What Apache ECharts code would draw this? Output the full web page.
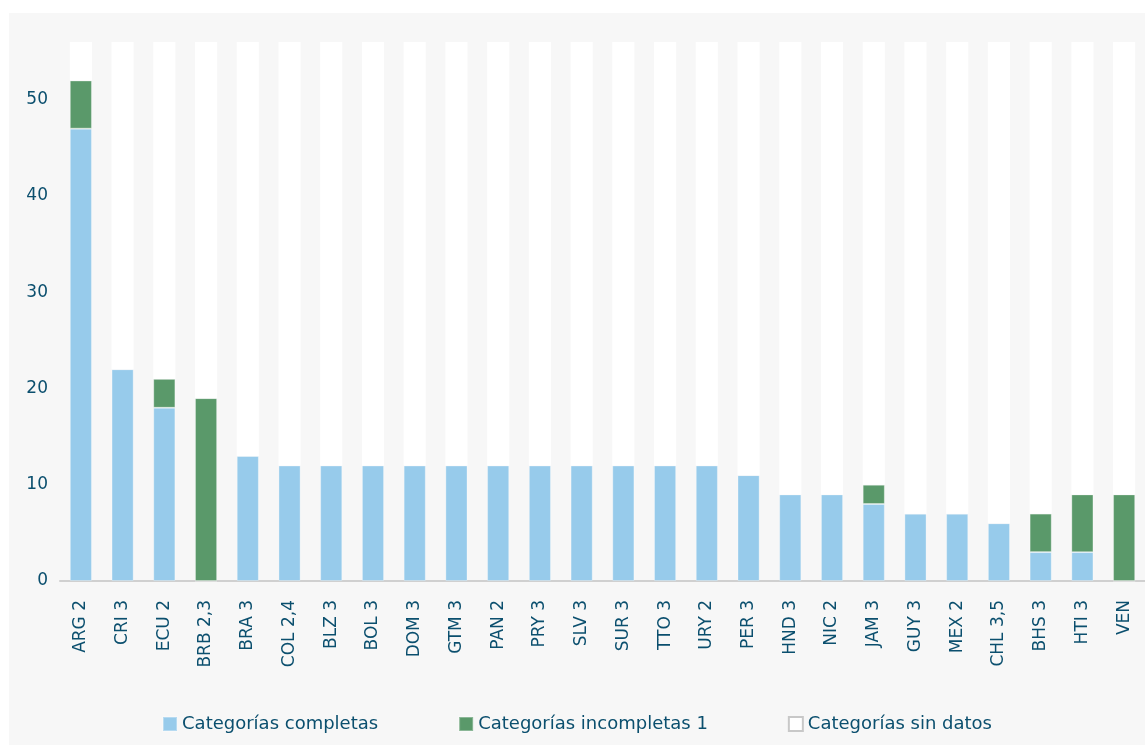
<!DOCTYPE html>
<html>
<head>
<meta charset="utf-8">
<script src="https://cdn.jsdelivr.net/npm/echarts@6/dist/echarts.min.js"></script>
<style>
html,body{margin:0;padding:0;background:#ffffff;}
#c{position:absolute;left:9px;top:13px;width:1136px;height:732px;background:#f7f7f7;}
</style>
</head>
<body>
<div id="c"></div>
<script>
const categories = ["ARG 2","CRI 3","ECU 2","BRB 2,3","BRA 3","COL 2,4","BLZ 3","BOL 3","DOM 3","GTM 3","PAN 2","PRY 3","SLV 3","SUR 3","TTO 3","URY 2","PER 3","HND 3","NIC 2","JAM 3","GUY 3","MEX 2","CHL 3,5","BHS 3","HTI 3","VEN"];
const completas   = [47,22,18,0,13,12,12,12,12,12,12,12,12,12,12,12,11,9,9,8,7,7,6,3,3,0];
const incompletas = [5,0,3,19,0,0,0,0,0,0,0,0,0,0,0,0,0,0,0,2,0,0,0,4,6,9];
const totalCategorias = 56;
const sinDatos = categories.map((c,i)=> totalCategorias - completas[i] - incompletas[i]);
const yTicks = [0,10,20,30,40,50];

const txt = '#0b4f6e';
const font = '"DejaVu Sans", sans-serif';
const chart = echarts.init(document.getElementById('c'), null, {renderer:'canvas'});
chart.setOption({
  backgroundColor:'#f7f7f7',
  animation:false,
  grid:{left:51, right:0, top:29, bottom:164},
  legend:{
    top:697, left:'center', itemWidth:14, itemHeight:14, itemGap:80,
    textStyle:{color:txt, fontFamily:font, fontSize:18},
    data:[
      {name:'Categorías completas', icon:'rect'},
      {name:'Categorías incompletas 1', icon:'rect'},
      {name:'Categorías sin datos', icon:'rect', itemStyle:{color:'#ffffff', borderColor:'#c8c8c8', borderWidth:2}}
    ]
  },
  xAxis:{
    type:'category', data:categories,
    axisLine:{lineStyle:{color:'#d0d0d0', width:2}},
    axisTick:{show:false},
    axisLabel:{rotate:90, color:txt, fontFamily:font, fontSize:17, margin:19, interval:0}
  },
  yAxis:{
    type:'value', min:0, max:totalCategorias, interval:10,
    splitLine:{show:false}, axisLine:{show:false}, axisTick:{show:false},
    axisLabel:{color:txt, fontFamily:font, fontSize:17, margin:12,
      formatter:v=> yTicks.includes(v) ? String(v) : ''}
  },
  series:[
    {name:'Categorías completas', type:'bar', stack:'t', data:completas, barWidth:'53%',
     itemStyle:{color:'#97cbeb', borderColor:'rgba(255,255,255,0.3)', borderWidth:1}},
    {name:'Categorías incompletas 1', type:'bar', stack:'t', data:incompletas,
     itemStyle:{color:'#5a996a', borderColor:'rgba(255,255,255,0.3)', borderWidth:1}},
    {name:'Categorías sin datos', type:'bar', stack:'t', data:sinDatos,
     itemStyle:{color:'#ffffff'}}
  ]
});
</script>
</body>
</html>
